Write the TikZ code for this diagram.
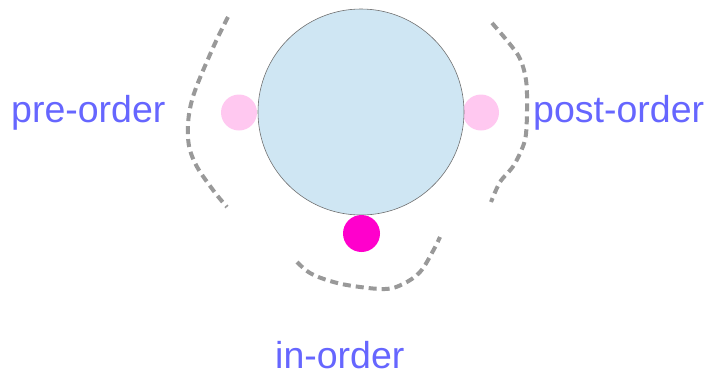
\documentclass[tikz,border=0pt]{standalone}
\usepackage{fontspec}
\setmainfont{Liberation Sans}
\definecolor{lbl}{HTML}{6666FF}
\definecolor{dashgray}{HTML}{999999}
\definecolor{bigfill}{HTML}{CFE6F3}
\definecolor{bigline}{HTML}{707070}
\definecolor{lpink}{HTML}{FFC8F0}
\definecolor{magent}{HTML}{FF00CC}
\begin{document}
\begin{tikzpicture}[x=1pt,y=-1pt,
  lbltext/.style={font=\fontsize{37.5}{42}\selectfont, text=lbl, inner sep=0pt, anchor=base west},
  dashcurve/.style={draw=dashgray, line width=4pt, dash pattern=on 8pt off 5pt},
  visit/.style={circle, inner sep=0pt, minimum size=36pt, draw=none}]
\useasboundingbox (0,0) rectangle (707,376);
\node[visit, fill=lpink] (pre) at (239,112.5) {};
\node[visit, fill=lpink] (post) at (481,112.5) {};
\node[circle, inner sep=0pt, minimum size=206pt, fill=bigfill, draw=bigline, line width=0.6pt] (root) at (361,112) {};
\node[visit, fill=magent, minimum size=37pt] (in) at (361.5,233.5) {};
\node[lbltext] (tpre) at (11,122) {pre-order};
\node[lbltext] (tpost) at (533,122) {post-order};
\node[lbltext] (tin) at (275,368) {in-order};
\draw[dashcurve] plot[smooth, tension=0.6] coordinates {(228,17) (212,50) (192,100) (188,137) (195,163) (213,190) (227,207)};
\draw[dashcurve] plot[smooth, tension=0.5] coordinates {(492,23) (518,55) (526,80) (527,110) (525,140) (514,165) (500,182) (491,202)};
\draw[dashcurve] plot[smooth, tension=0.6] coordinates {(297,262) (310,273) (330,281) (353,286) (385,289) (403,284) (420,272) (433,251) (440,237)};
\end{tikzpicture}
\end{document}
